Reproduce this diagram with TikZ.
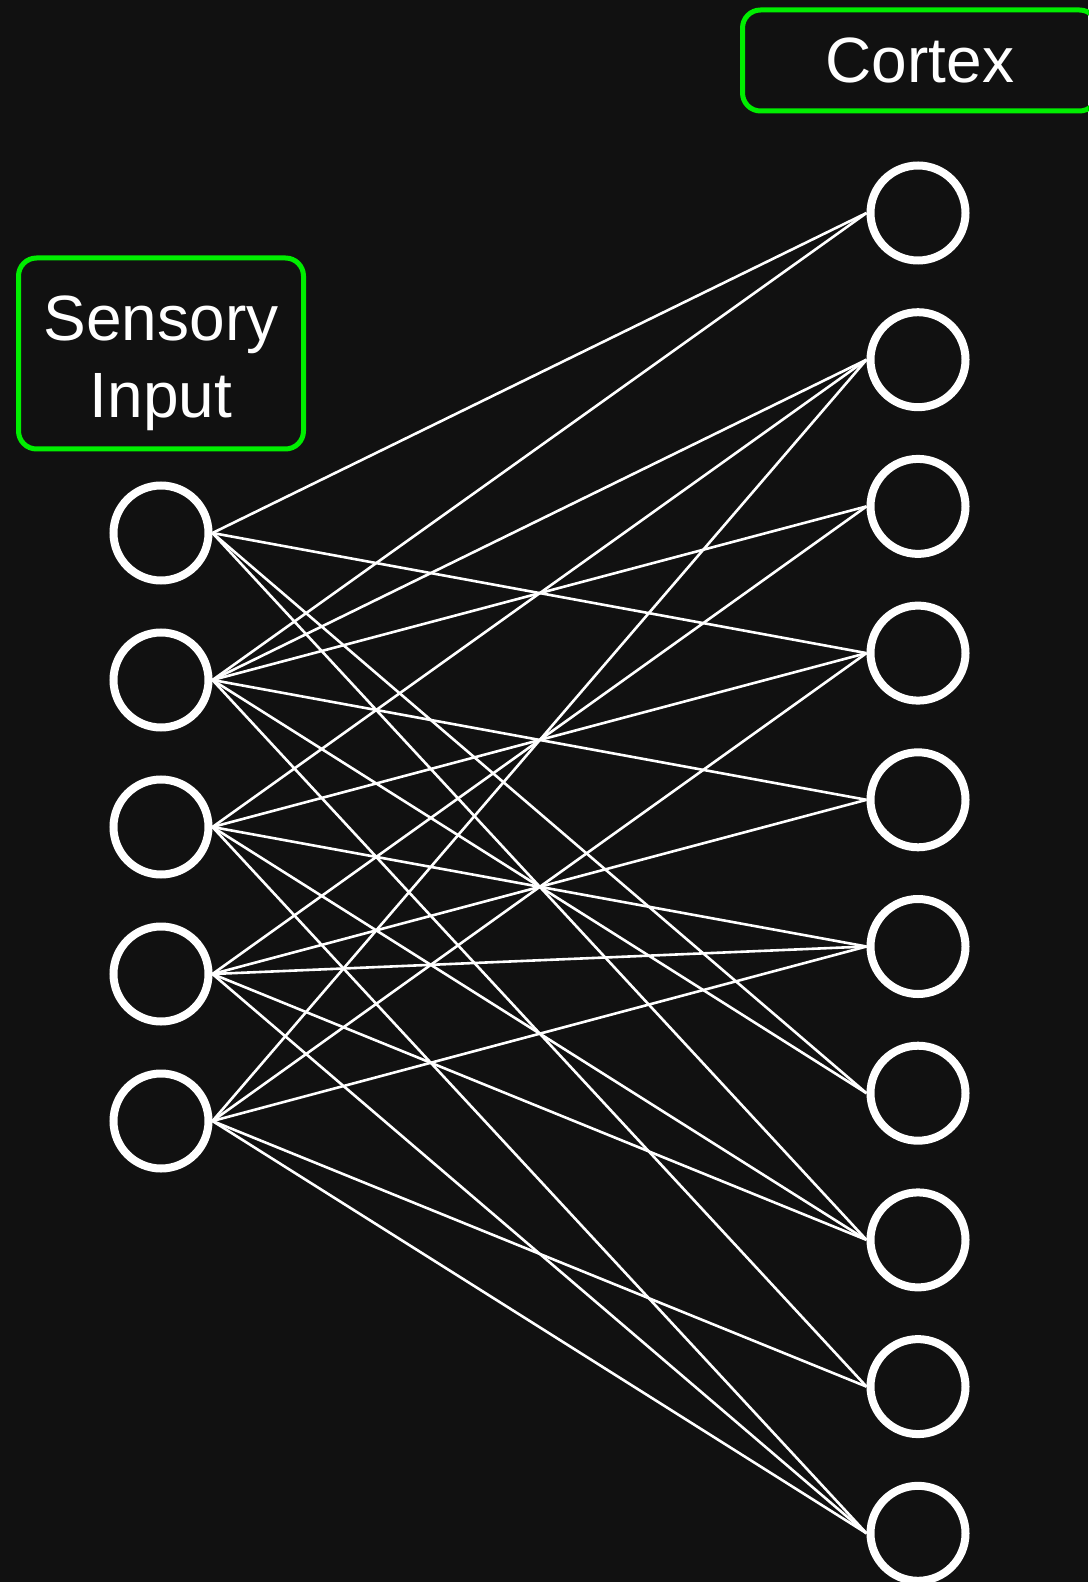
\documentclass[tikz,border=0pt]{standalone}
\usepackage{fontspec}
\setmainfont{Liberation Sans}
\usetikzlibrary{positioning}
\definecolor{bgdark}{RGB}{17,17,17}
\definecolor{boxgreen}{RGB}{0,238,0}

\begin{document}
\begin{tikzpicture}[
    x=0.5pt, y=-0.5pt,
    font=\fontsize{32}{38.5}\selectfont,
    % Node styles
    neuron/.style={draw=white, circle, line width=4pt, minimum size=47.5pt, inner sep=0pt},
    tag/.style={draw=boxgreen, line width=2.5pt, rounded corners=9pt, text=white, align=center, inner sep=0pt},
    link/.style={draw=white, line width=1.3pt},
]
    \fill[bgdark] (0,0) rectangle (1088,1582);
    \useasboundingbox (0,0) rectangle (1088,1582);

    % Sensory layer
    \foreach \i in {1,...,5} {
        \node[neuron] (sens\i) at (161, 533+\i*147-147) {};
    }

    % Cortex layer
    \foreach \j in {1,...,10} {
        \node[neuron] (cor\j) at (918, 213+\j*146.7-146.7) {};
    }

    % Connections
    \foreach \a/\b in {1/1,1/4,1/7,1/8, 2/1,2/2,2/3,2/5,2/7,2/9,
                       3/2,3/4,3/6,3/8,3/10, 4/3,4/5,4/6,4/8,4/10,
                       5/2,5/4,5/6,5/9,5/10} {
        \draw[link] (sens\a.east) -- (cor\b.west);
    }

    % Layer labels
    \node[tag, minimum width=142.5pt, minimum height=95.5pt, above=15pt of sens1] (sensory) {};
    \node[text=white, align=center, yshift=-5pt] (sensorytext) at (sensory) {Sensory\\Input};
    \node[tag, minimum width=177.5pt, minimum height=50.5pt, above=24pt of cor1, xshift=1pt] (cortex) {Cortex};

\end{tikzpicture}
\end{document}
